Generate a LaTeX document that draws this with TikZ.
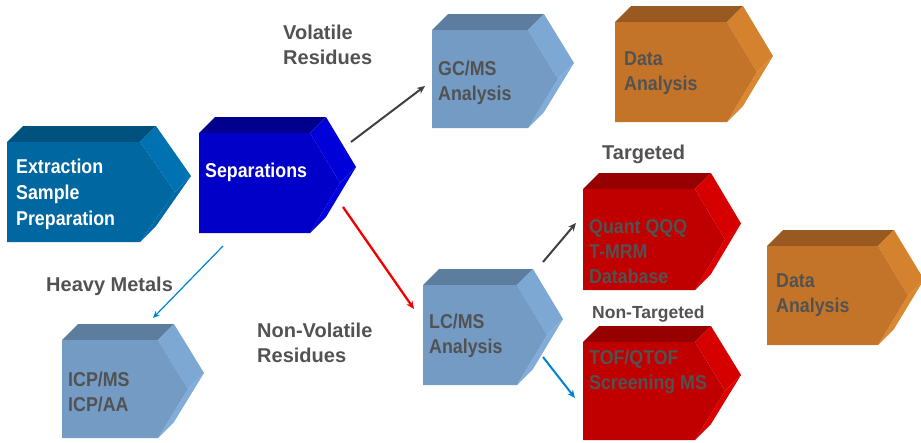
\documentclass[tikz,border=0pt]{standalone}
\usepackage{fontspec}
\setmainfont{Liberation Sans}
\newfontfamily\boxfont[FakeStretch=0.89]{Liberation Sans}
\usetikzlibrary{arrows.meta}

% colour sets: front face, top face, upper side, lower side
\definecolor{extfront}{RGB}{0,103,160}
\definecolor{exttop}{RGB}{0,82,126}
\definecolor{extside}{RGB}{0,114,178}
\definecolor{extlow}{RGB}{0,105,170}
\definecolor{sepfront}{RGB}{0,0,200}
\definecolor{septop}{RGB}{0,0,140}
\definecolor{sepside}{RGB}{0,0,216}
\definecolor{seplow}{RGB}{0,0,225}
\definecolor{stlfront}{RGB}{115,155,196}
\definecolor{stltop}{RGB}{92,125,158}
\definecolor{stlside}{RGB}{125,168,212}
\definecolor{stllow}{RGB}{130,172,218}
\definecolor{orgfront}{RGB}{196,116,40}
\definecolor{orgtop}{RGB}{152,90,32}
\definecolor{orgside}{RGB}{212,130,46}
\definecolor{orglow}{RGB}{220,136,50}
\definecolor{redfront}{RGB}{192,0,0}
\definecolor{redtop}{RGB}{150,0,0}
\definecolor{redside}{RGB}{214,0,0}
\definecolor{redlow}{RGB}{222,0,0}
\definecolor{textgray}{RGB}{82,82,82}
\definecolor{arrowgray}{RGB}{64,64,64}
\definecolor{arrowred}{RGB}{240,0,0}
\definecolor{arrowblue}{RGB}{0,130,210}

% extruded chevron: #1 name, #2 x, #3 y (top left of front face),
% #4 front width, #5 height, #6 point depth, #7 colour set
\newcommand\chevblock[7]{%
  \begin{scope}[shift={(#2,#3)}]
    \fill[#7top] (0,0) -- (16,-16) -- (#4+16,-16) -- (#4,0) -- cycle;
    \fill[#7side] (#4,0) -- (#4+16,-16) -- (#4+#6+16,#5/2-16) -- (#4+#6,#5/2) -- cycle;
    \fill[#7low] (#4+#6,#5/2) -- (#4+#6+16,#5/2-16) -- (#4+16,#5-16) -- (#4,#5) -- cycle;
    \fill[#7front] (0,0) -- (#4,0) -- (#4+#6,#5/2) -- (#4,#5) -- (0,#5) -- cycle;
    \node[inner sep=0,minimum width=#4,minimum height=#5,anchor=north west] (#1) at (0,0) {};
  \end{scope}}

% text nodes are placed by the baseline of their last line
\tikzset{
  boxtext/.style={anchor=base west,inner sep=0,align=left,text=textgray,
    font=\boxfont\bfseries\fontsize{20}{25}\selectfont},
  whitetext/.style={boxtext,text=white,font=\boxfont\bfseries\fontsize{20}{26}\selectfont},
  label/.style={anchor=base west,inner sep=0,align=left,text=textgray,
    font=\bfseries\fontsize{20}{25}\selectfont},
  flow/.style={-{Stealth[length=8pt,width=7pt]},line width=2pt}
}

\begin{document}
\begin{tikzpicture}[x=1pt,y=-1pt]
\useasboundingbox (0,0) rectangle (921,442);

% blocks
\chevblock{ext}{7}{142}{133}{100}{35}{ext}
\chevblock{sep}{199}{133}{111}{100}{30}{sep}
\chevblock{gc}{432}{30}{96}{98}{30}{stl}
\chevblock{dataA}{615}{22}{112}{100}{30}{org}
\chevblock{qqq}{583}{189}{112}{101}{30}{red}
\chevblock{tof}{583}{342}{112}{98}{30}{red}
\chevblock{lc}{423}{285}{94}{100}{30}{stl}
\chevblock{icp}{62}{340}{96}{98}{30}{stl}
\chevblock{dataB}{767}{246}{111}{99}{30}{org}

% block texts
\node[whitetext] (extT) at (16,225) {Extraction\\Sample\\Preparation};
\node[whitetext] (sepT) at (205,177) {Separations};
\node[boxtext] (gcT) at (438,100) {GC/MS\\Analysis};
\node[boxtext] (dataAT) at (624,90) {Data\\Analysis};
\node[boxtext] (qqqT) at (589,283) {Quant QQQ\\T-MRM\\Database};
\node[boxtext] (tofT) at (589,389) {TOF/QTOF\\Screening MS};
\node[boxtext] (lcT) at (429,353) {LC/MS\\Analysis};
\node[boxtext] (icpT) at (68,411) {ICP/MS\\ICP/AA};
\node[boxtext] (dataBT) at (776,312) {Data\\Analysis};

% branch labels
\node[label] (vol) at (283,64) {Volatile\\Residues};
\node[label] (nonvol) at (257,362) {Non-Volatile\\Residues};
\node[label] (metals) at (46,291) {Heavy Metals};
\node[label] (targ) at (602,159) {Targeted};
\node[label,font=\bfseries\fontsize{17.5}{22}\selectfont] (nontarg) at (592,318) {Non-Targeted};

% connector end points
\coordinate (sepVol) at (351,142);
\coordinate (gcIn) at (425,86);
\coordinate (sepNon) at (343,207);
\coordinate (lcIn) at (414,309);
\coordinate (sepMet) at (223,246);
\coordinate (icpIn) at (153,318);
\coordinate (lcTarg) at (543,262);
\coordinate (qqqIn) at (576,223);
\coordinate (lcNon) at (543,357);
\coordinate (tofIn) at (575,398);

\draw[flow,arrowgray] (sepVol) -- (gcIn);
\draw[flow,arrowred,line width=2.3pt] (sepNon) -- (lcIn);
\draw[flow,arrowblue,line width=1.2pt,-{Stealth[length=7pt,width=6pt]}] (sepMet) -- (icpIn);
\draw[flow,arrowgray] (lcTarg) -- (qqqIn);
\draw[flow,arrowblue] (lcNon) -- (tofIn);
\end{tikzpicture}
\end{document}
